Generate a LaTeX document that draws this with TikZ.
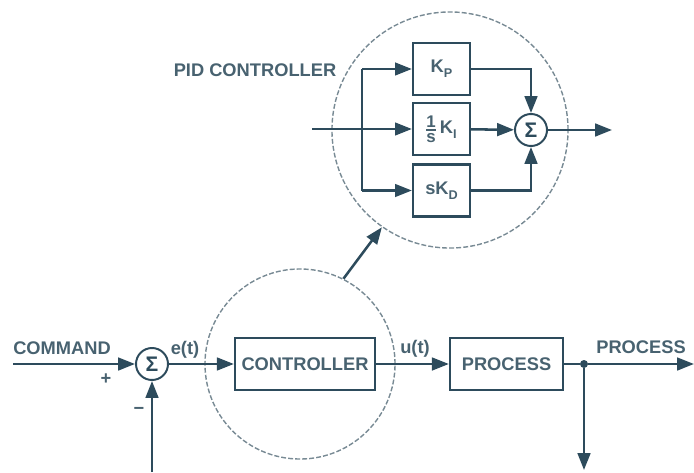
\documentclass[tikz,border=0pt]{standalone}
\usepackage{fontspec}
\setmainfont{Liberation Sans}
\usetikzlibrary{arrows.meta}
\definecolor{linecol}{RGB}{45,75,92}
\definecolor{textcol}{RGB}{72,98,112}
\definecolor{dashcol}{RGB}{120,138,148}
\tikzset{
  block/.style={draw=linecol, line width=1.6pt, minimum height=1.3cm, inner sep=0pt,
    text=textcol, font=\fontsize{13}{15}\selectfont\bfseries},
  sum/.style={circle, draw=linecol, line width=1.4pt, minimum size=0.8cm, inner sep=0pt,
    text=linecol, font=\fontsize{15}{15}\selectfont\bfseries},
  lbl/.style={text=textcol, inner sep=0pt, font=\fontsize{13}{15}\selectfont\bfseries},
  zoomcirc/.style={circle, draw=dashcol, line width=1pt, dash pattern=on 3.5pt off 1.5pt, inner sep=0pt},
  jdot/.style={circle, fill=linecol, minimum size=0.2cm, inner sep=0pt},
  wire/.style={draw=linecol, line width=1.8pt},
  arr/.style={wire, -{Triangle[length=12pt,width=9pt]}}
}
\newcommand{\subtxt}[1]{\raisebox{-0.55ex}{\fontsize{9}{9}\selectfont #1}}
\begin{document}
\begin{tikzpicture}[x=0.025cm,y=-0.025cm]
  \useasboundingbox (0,0) rectangle (694,472);
  % loop
  \node[zoomcirc, minimum size=4.75cm] (lc) at (300,364) {};
  \node[sum] (s1) at (152,364) {Σ};
  \node[block, minimum width=3.5cm, fill=white] (ctrl) at (305,364) {CONTROLLER};
  \node[block, minimum width=2.825cm] (proc) at (506.5,364) {PROCESS};
  \node[jdot] (j) at (584,364) {};
  \coordinate (cmd) at (13,364);
  \coordinate (fb) at (152,472);
  \coordinate (down) at (584,470);
  \coordinate (out) at (694,364);
  \node[lbl] (cmdlbl) at (62,348) {COMMAND};
  \node[lbl] (plus) at (106,379) {+};
  \node[lbl] (minus) at (139,411) {−};
  \node[lbl] (elbl) at (185,350) {e(t)};
  \node[lbl] (ulbl) at (415,349) {u(t)};
  \node[lbl] (pvlbl) at (641,347) {PROCESS};
  \draw[arr] (cmd) -- (s1);
  \draw[arr] (fb) -- (s1);
  \draw[arr] (s1) -- (ctrl);
  \draw[arr] (ctrl) -- (proc);
  \draw[wire] (proc) -- (j);
  \draw[arr] (j) -- (out);
  \draw[arr] (j) -- (down);
  % PID
  \node[zoomcirc, minimum size=5.9cm] (uc) at (450,130) {};
  \node[lbl] (pidlbl) at (255,70) {PID CONTROLLER};
  \node[block, minimum width=1.425cm] (kp) at (441.5,69) {K\subtxt{P}};
  \node[block, minimum width=1.425cm] (ki) at (441.5,129)
    {$\vcenter{\halign{\hfil#\hfil\cr
      \fontsize{12}{12}\selectfont\bfseries 1\cr
      \noalign{\kern1.5pt\hrule height 1.2pt\kern1.5pt}
      \fontsize{12}{12}\selectfont\bfseries s\cr}}$\kern3pt K\subtxt{I}};
  \node[block, minimum width=1.425cm] (kd) at (441.5,190.5) {sK\subtxt{D}};
  \node[sum] (s2) at (531,130) {Σ};
  \coordinate (pin) at (312,129);
  \coordinate (br) at (362,129);
  \coordinate (brt) at (362,69);
  \coordinate (brb) at (362,190.5);
  \coordinate (pout) at (612,130);
  \draw[wire] (pin) -- (br);
  \draw[wire] (brt) -- (brb);
  \draw[arr] (brt) -- (kp);
  \draw[arr] (br) -- (ki);
  \draw[arr] (brb) -- (kd);
  \draw[arr] (kp) -| (s2);
  \draw[arr] (ki) -- (s2);
  \draw[arr] (kd) -| (s2);
  \draw[arr] (s2) -- (pout);
  \draw[arr] (lc.63) -- (uc.235);
\end{tikzpicture}
\end{document}
